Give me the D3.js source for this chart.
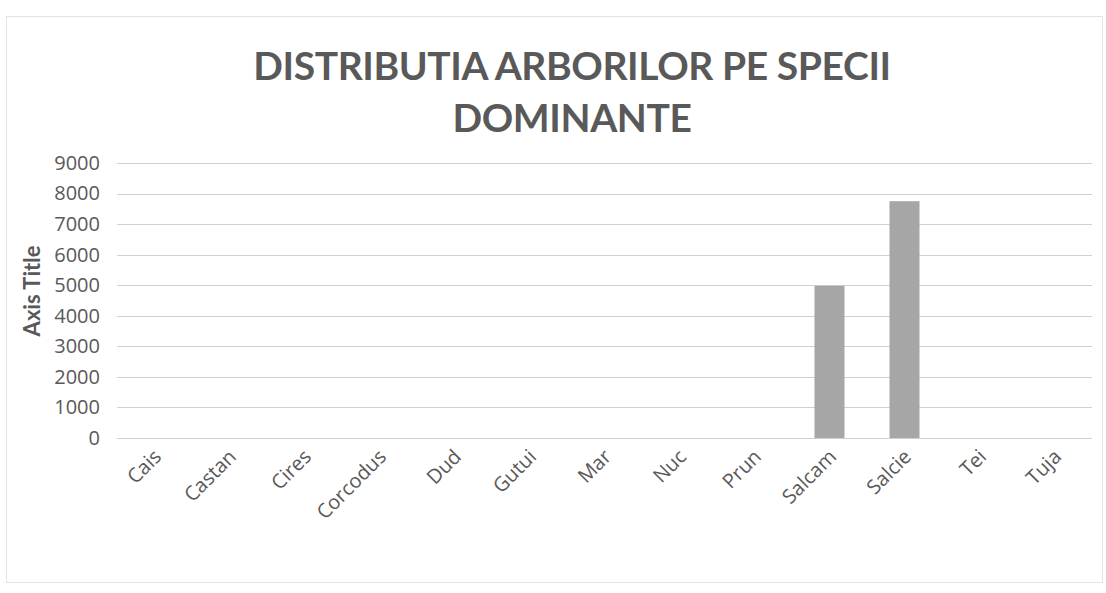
<!DOCTYPE html>
<html>
<head>
<meta charset="utf-8">
<script src="https://cdn.jsdelivr.net/npm/d3@7"></script>
<style>
  body { margin: 0; background: #fff; }
  svg { display: block; }
</style>
</head>
<body>
<svg width="1106" height="593"></svg>
<script>
const categories = ["Cais", "Castan", "Cires", "Corcodus", "Dud", "Gutui", "Mar", "Nuc", "Prun", "Salcam", "Salcie", "Tei", "Tuja"];
const values = [0, 0, 0, 0, 0, 0, 0, 0, 0, 4980, 7750, 0, 0];
const yTicks = [0, 1000, 2000, 3000, 4000, 5000, 6000, 7000, 8000, 9000];
const titleLines = ["DISTRIBUTIA ARBORILOR PE SPECII", "DOMINANTE"];

const data = categories.map((c, i) => ({ name: c, value: values[i] }));

const width = 1106;
const height = 593;
const margin = { top: 163, right: 14, bottom: 155, left: 117 };
const titleFont = "Lato, 'Open Sans', sans-serif";
const font = "'Open Sans', Lato, sans-serif";
const textColor = "#595959";

const svg = d3.select("svg");

// chart area border
svg.append("rect")
  .attr("x", 6.5).attr("y", 16.5)
  .attr("width", 1096).attr("height", 566)
  .attr("fill", "none")
  .attr("stroke", "#e3e3e3");

const x = d3.scaleBand()
  .domain(categories)
  .range([margin.left, width - margin.right])
  .paddingInner(0.6)
  .paddingOuter(0.3);

const y = d3.scaleLinear()
  .domain([0, 9000])
  .range([height - margin.bottom, margin.top]);

// gridlines
svg.append("g")
  .selectAll("line")
  .data(yTicks)
  .join("line")
  .attr("x1", margin.left)
  .attr("x2", width - margin.right)
  .attr("y1", d => Math.round(y(d)) + 0.5)
  .attr("y2", d => Math.round(y(d)) + 0.5)
  .attr("stroke", "#d0d0d0");

// bars
svg.append("g")
  .selectAll("rect")
  .data(data.filter(d => d.value > 0))
  .join("rect")
  .attr("x", d => x(d.name))
  .attr("y", d => y(d.value))
  .attr("width", x.bandwidth())
  .attr("height", d => y(0) - y(d.value))
  .attr("fill", "#a6a6a6");

// y axis
const yAxis = svg.append("g")
  .attr("transform", `translate(${margin.left},0)`)
  .call(d3.axisLeft(y).tickValues(yTicks).tickSize(0).tickPadding(17).tickFormat(d3.format("d")));
yAxis.select(".domain").remove();
yAxis.selectAll("text")
  .style("font-family", font)
  .style("font-size", "20px")
  .attr("fill", textColor);

// x axis
const xAxis = svg.append("g")
  .attr("transform", `translate(0,${y(0)})`)
  .call(d3.axisBottom(x).tickSize(0));
xAxis.select(".domain").remove();
xAxis.selectAll("text")
  .attr("transform", "translate(8,20) rotate(-45)")
  .attr("y", 0).attr("dy", 0)
  .style("text-anchor", "end")
  .style("font-family", font)
  .style("font-size", "20px")
  .attr("fill", textColor);

// axis title
svg.append("text")
  .attr("transform", "translate(40,291) rotate(-90)")
  .attr("text-anchor", "middle")
  .style("font-family", titleFont)
  .style("font-size", "22px")
  .style("font-weight", "bold")
  .attr("fill", textColor)
  .text("Axis Title");

// chart title
svg.append("g")
  .selectAll("text")
  .data(titleLines)
  .join("text")
  .attr("x", 572)
  .attr("y", (d, i) => 80 + i * 52)
  .attr("text-anchor", "middle")
  .style("font-family", titleFont)
  .style("font-size", "39px")
  .style("letter-spacing", "-0.4px")
  .style("font-weight", "bold")
  .attr("fill", textColor)
  .text(d => d);
</script>
</body>
</html>
